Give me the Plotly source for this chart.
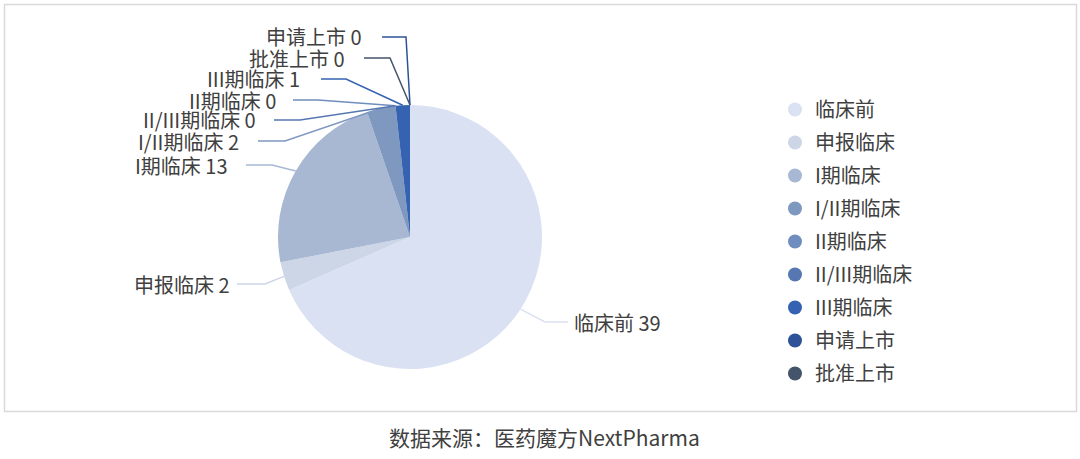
import math
import plotly.graph_objects as go

# ---- data ----
stages = ["临床前", "申报临床", "I期临床", "I/II期临床", "II期临床",
          "II/III期临床", "III期临床", "申请上市", "批准上市"]
counts = [39, 2, 13, 2, 0, 0, 1, 0, 0]
colors = ["#DAE1F2", "#CDD6E7", "#A8B8D3", "#7F98C0", "#6F8DBF",
          "#5677B1", "#3562B1", "#2D5297", "#44546A"]
caption = "数据来源：医药魔方NextPharma"

# ---- layout constants (pixels) ----
W, H = 1080, 459
CX, CY, R = 410, 237, 132
FONT = "Microsoft YaHei, Noto Sans CJK SC, sans-serif"
TXT = "#404040"

# label placement: (text x, text y, anchor, elbow x, end x) per stage
label_pos = {
    "临床前":     (573, 322, "left", 545, 568),
    "申报临床":   (231, 284, "right", 265, 237),
    "I期临床":    (229, 165, "right", 272, 246),
    "I/II期临床": (240, 141, "right", 285, 258),
    "II期临床":   (277, 100, "right", 318, 293),
    "II/III期临床": (257, 120, "right", 300, 274),
    "III期临床":  (301, 79, "right", 346, 321),
    "申请上市":   (363, 37, "right", 406, 382),
    "批准上市":   (346, 58, "right", 390, 364),
}

def px(x):
    return x / W

def py(y):
    return 1 - y / H

fig = go.Figure()

fig.add_trace(go.Pie(
    labels=stages, values=counts, sort=False, direction="clockwise",
    rotation=0, marker=dict(colors=colors, line=dict(width=0)),
    textinfo="none", hoverinfo="label+value", showlegend=False,
    domain=dict(x=[px(CX - R), px(CX + R)], y=[py(CY + R), py(CY - R)]),
))

# legend entries with round markers
for s, c in zip(stages, colors):
    fig.add_trace(go.Scatter(
        x=[None], y=[None], mode="markers", name=s, legendgroup=s,
        marker=dict(symbol="circle", size=14, color=c),
    ))

total = sum(counts)
cum = 0
shapes = []
annotations = []
for s, v, c in zip(stages, counts, colors):
    mid = (cum + v / 2) / total * 2 * math.pi
    cum += v
    ax = CX + R * math.sin(mid)
    ay = CY - R * math.cos(mid)
    tx, ty, anc, ex, endx = label_pos[s]
    path = f"M {px(endx)},{py(ty)} L {px(ex)},{py(ty)} L {px(ax)},{py(ay)}"
    shapes.append(dict(type="path", xref="paper", yref="paper", path=path,
                       line=dict(color=c, width=1.5)))
    annotations.append(dict(
        x=px(tx), y=py(ty), xref="paper", yref="paper", showarrow=False,
        text=f"{s} {v}", xanchor=anc, yanchor="middle", borderpad=0,
        font=dict(family=FONT, size=20, color=TXT),
    ))

# outer frame
shapes.append(dict(type="rect", xref="paper", yref="paper",
                   x0=px(4.5), x1=px(1076.5), y0=py(411.5), y1=py(4.5),
                   line=dict(color="#D9D9D9", width=1.5)))

annotations.append(dict(
    x=px(544), y=py(437), xref="paper", yref="paper", showarrow=False,
    text=caption, xanchor="center", yanchor="middle",
    font=dict(family=FONT, size=21, color="#404040"),
))

fig.update_layout(
    width=W, height=H, margin=dict(l=0, r=0, t=0, b=0),
    paper_bgcolor="white", plot_bgcolor="white",
    xaxis=dict(visible=False), yaxis=dict(visible=False),
    shapes=shapes, annotations=annotations,
    legend=dict(x=px(775), y=py(90), xanchor="left", yanchor="top",
                font=dict(family=FONT, size=20, color=TXT),
                tracegroupgap=4, itemwidth=30, bgcolor="rgba(0,0,0,0)"),
)

fig.write_html("out.html", post_script="document.body.style.margin='0';",
               config={"displayModeBar": False})
